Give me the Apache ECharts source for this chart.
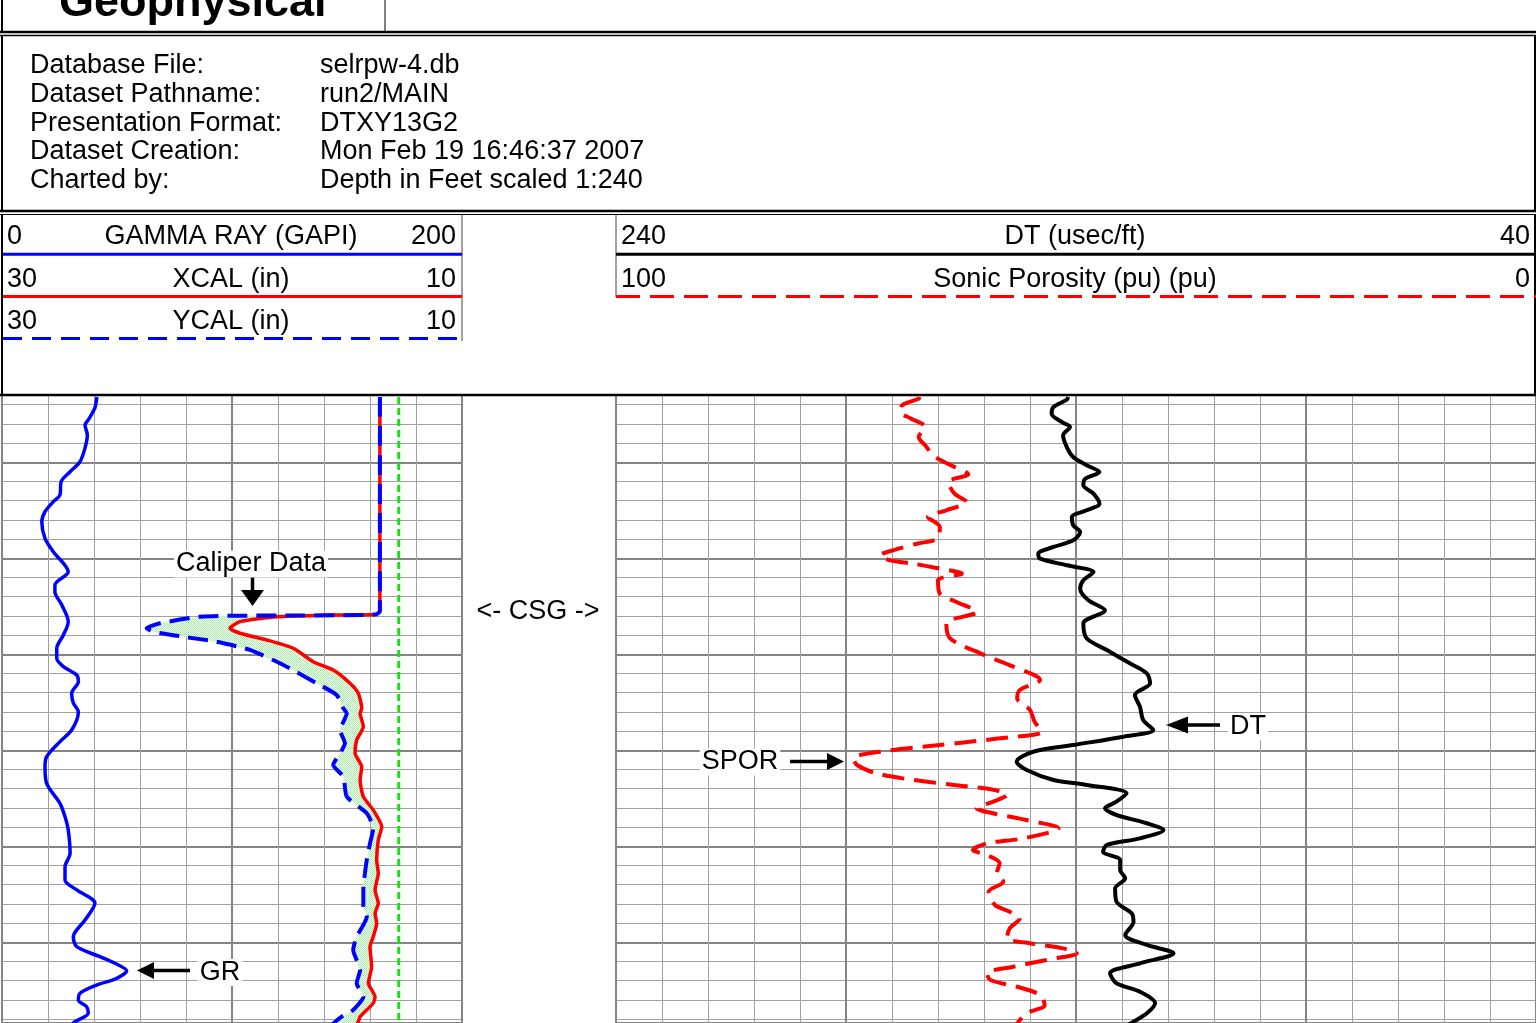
<!DOCTYPE html>
<html>
<head>
<meta charset="utf-8">
<title>Well log</title>
<script src="https://cdn.jsdelivr.net/npm/echarts@6/dist/echarts.min.js"></script>
<style>
html, body { margin: 0; padding: 0; background: #fff; }
#chart { width: 1536px; height: 1023px; }
</style>
</head>
<body>
<div id="chart"></div>
<script>
// gamma ray (GAPI) against depth (ft)
var grDepth = [3.2,3.33,4.34,5.59,6.11,7.16,8.51,9.94,10.98,12.02,13.41,14.10,15.15,16.19,17.92,19.31,21.40,22.78,23.48,24.86,26.60,27.99,29.38,30.42,31.29,32.16,32.85,34.06,35.07,36.01,37.89,39.10,40.67,41.71,43.45,45.52,46.92,48.30,50.73,52.13,53.51,54.55,55.94,57.68,59.42,60.46,61.50,62.19,62.96,63.75,64.45,65.31,66.01,66.71,67.40,68.27,68.6];
var grValue = [41.3,41.2,40.4,37.5,36.1,37.1,36.1,33.9,29.6,25.7,25.2,22.3,18.7,17.3,18.7,22.3,28.8,23.0,23.0,26.0,28.8,26.7,23.8,23.8,26.7,32.5,33.2,30.3,31.0,33.2,30.3,25.2,19.4,18.7,19.4,25.2,27.4,28.8,29.6,27.4,27.4,32.5,40.4,36.1,31.0,32.5,42.6,49.1,54.2,49.9,41.2,33.9,33.2,36.8,37.5,31.7,30.4];

// calipers (in)
var xcalDepth = [3.2,25.49,25.85,25.91,26.08,26.60,27.29,27.81,28.51,29.38,30.77,31.64,33.02,34.06,35.63,36.15,37.54,38.93,40.31,41.71,43.09,44.83,46.22,47.96,49.34,51.43,52.81,54.55,55.94,56.98,58.02,59.42,60.46,62.54,64.27,65.67,66.35,67.75,68.27,68.6];
var xcalValue = [13.57,13.57,13.74,15.74,18.06,19.65,20.09,19.65,18.49,17.33,16.47,15.60,14.87,14.51,14.36,14.43,14.29,14.58,14.65,14.36,14.43,14.29,13.86,13.49,13.64,13.71,13.64,13.78,13.64,13.78,13.71,13.86,14.0,13.93,14.07,13.78,13.86,14.43,14.51,14.61];
var ycalDepth = [3.2,25.49,25.85,25.96,25.98,26.08,26.77,27.29,27.65,28.17,28.69,29.55,31.11,33.02,34.24,35.63,36.15,37.89,39.27,40.31,41.53,42.75,44.83,46.56,48.13,49.69,51.43,52.81,54.21,56.29,57.33,59.42,60.80,62.89,64.27,65.67,67.05,67.75,68.30,68.6];
var ycalValue = [13.57,13.57,13.74,17.04,19.94,21.39,23.13,23.71,23.42,22.12,20.67,19.22,17.77,16.32,15.45,15.16,15.01,15.30,15.09,15.30,15.60,15.16,15.01,14.14,13.86,14.0,14.14,14.22,14.29,14.29,14.14,14.58,14.73,14.43,14.58,14.29,14.73,15.23,15.52,15.65];
var bitSize = 12.75;

// sonic (usec/ft) and sonic porosity (pu)
var dtDepth = [3.2,3.48,4.24,4.94,5.80,6.32,7.19,8.41,9.45,10.31,11.01,11.71,12.40,13.27,14.31,15.0,15.70,16.56,17.26,18.13,18.82,19.52,20.04,20.73,21.43,22.29,23.17,24.38,25.42,26.77,28.33,29.55,30.94,31.98,33.02,34.24,35.46,36.84,37.89,38.58,39.45,40.15,41.19,42.05,43.09,43.61,44.48,45.35,46.04,46.74,47.60,48.30,49.17,49.86,50.56,51.43,52.47,53.33,54.38,55.77,56.98,57.85,59.24,60.28,61.15,62.19,63.23,64.27,65.15,66.35,67.40,68.27,68.6];
var dtValue = [141.7,142.0,144.9,145.3,143.1,141.3,142.8,142.0,140.6,137.7,134.9,138.0,138.4,136.2,134.9,137.7,140.9,140.6,139.1,140.6,144.9,148.2,147.8,142.0,136.2,138.4,139.1,137.3,133.7,138.4,137.7,133.3,128.3,124.6,123.9,127.2,126.1,125.4,123.2,129.7,140.6,149.3,152.9,150.7,144.9,137.7,129.0,131.2,133.7,131.2,124.6,121.0,126.1,133.3,134.1,130.4,130.4,129.3,131.5,131.2,127.9,127.5,129.3,124.6,118.8,126.1,132.6,131.2,126.1,122.8,124.6,127.5,128.7];
var sporDepth = [3.2,3.38,4.06,4.76,5.46,6.32,7.36,8.23,9.45,10.49,11.25,12.05,13.27,14.14,15.0,15.70,16.74,17.96,18.48,19.17,19.69,20.21,20.56,21.08,21.60,22.29,23.69,24.55,25.59,26.77,28.33,29.90,31.29,32.68,33.72,34.58,35.80,37.02,38.06,38.75,39.45,40.15,40.83,41.53,42.40,43.09,43.61,44.11,44.64,45.35,46.04,46.56,47.26,48.13,49.17,49.69,50.39,50.91,51.77,52.81,53.69,54.73,56.11,56.81,57.50,58.54,59.58,60.10,60.63,61.15,61.84,62.54,63.23,63.93,64.63,65.49,66.53,67.40,68.09,68.6];
var sporValue = [67.0,67.1,68.9,69.1,67.9,66.4,67.1,66.4,65.3,63.2,61.7,63.9,63.2,61.9,64.1,66.1,64.8,65.1,67.3,69.9,71.3,70.2,67.7,64.8,62.4,65.0,64.8,63.0,60.8,64.1,63.7,60.4,56.8,53.9,56.1,56.4,55.0,54.5,53.7,58.3,64.8,71.3,74.2,73.8,71.7,67.7,63.3,59.0,57.5,59.0,60.8,59.0,55.4,51.9,55.7,59.7,61.2,59.7,58.3,58.6,57.9,59.5,58.8,57.2,56.1,57.2,57.5,55.0,51.4,49.9,53.2,56.8,59.7,59.3,56.4,53.9,53.4,55.4,56.1,56.5];

// header texts
var infoLabels = ['Database File:', 'Dataset Pathname:', 'Presentation Format:', 'Dataset Creation:', 'Charted by:'];
var infoValues = ['selrpw-4.db', 'run2/MAIN', 'DTXY13G2', 'Mon Feb 19 16:46:37 2007', 'Depth in Feet scaled 1:240'];

var FONT = '"Liberation Sans", Arial, sans-serif';
var PXFT = 9.6;                       // 1:240 -> pixels per foot
var gridTop = 462.3 - 10 * PXFT;      // depth 0 sits under the header box
var depthMax = (1023 - gridTop) / PXFT;

function pairs(vals, depths) {
  var out = [];
  for (var i = 0; i < Math.min(vals.length, depths.length); i++) out.push([vals[i], depths[i]]);
  return out;
}

// stippled green for the caliper fill
var pat = document.createElement('canvas');
pat.width = 2; pat.height = 2;
var pg = pat.getContext('2d');
pg.fillStyle = '#f6fdf6'; pg.fillRect(0, 0, 2, 2);
pg.fillStyle = '#a6eaa6'; pg.fillRect(0, 0, 1, 1); pg.fillRect(1, 1, 1, 1);

var minorLine = { show: true, lineStyle: { color: '#a0a0a0', width: 1 } };
var majorLine = { show: true, lineStyle: { color: '#858585', width: 2 } };

function depthAxis(gi) {
  return {
    type: 'value', gridIndex: gi, inverse: true, min: 0, max: depthMax, interval: 10,
    axisLine: { show: false }, axisTick: { show: false }, axisLabel: { show: false },
    splitLine: majorLine, minorTick: { show: false, splitNumber: 5 }, minorSplitLine: minorLine
  };
}
function gridAxis(gi, min, max, interval, inverse) {
  return {
    type: 'value', gridIndex: gi, min: min, max: max, interval: interval, inverse: inverse,
    axisLine: { show: false }, axisTick: { show: false }, axisLabel: { show: false },
    splitLine: majorLine, minorTick: { show: false, splitNumber: 5 }, minorSplitLine: minorLine
  };
}
function hiddenAxis(gi, min, max) {
  return { type: 'value', gridIndex: gi, min: min, max: max, inverse: true, show: false, splitLine: { show: false } };
}

// graphic helpers
function hline(x1, x2, y, w, color, dash) {
  return { type: 'line', z: 101, shape: { x1: x1, y1: y, x2: x2, y2: y },
    style: { stroke: color || '#000', lineWidth: w, lineDash: dash || null } };
}
function vline(x, y1, y2, w, color) {
  return { type: 'line', z: 101, shape: { x1: x, y1: y1, x2: x, y2: y2 },
    style: { stroke: color || '#000', lineWidth: w } };
}
// y is the visual middle of the capitals, zrender puts it a bit high
function txt(s, x, y, align, bg, font) {
  return { type: 'text', z: 110, x: x, y: y + 2, style: {
    text: s, font: font || ('27px ' + FONT), fill: '#000',
    align: align || 'left', verticalAlign: 'middle',
    textAlign: align || 'left', textVerticalAlign: 'middle',
    backgroundColor: bg ? '#fff' : null, padding: bg ? [0, 2] : 0 } };
}
function head(points) {
  return { type: 'polygon', z: 111, shape: { points: points }, style: { fill: '#000' } };
}

var graphics = [
  { type: 'rect', z: 100, shape: { x: 0, y: 212, width: 1536, height: 184 }, style: { fill: '#fff' } },
  // logo box and info box
  vline(2, 0, 32, 2), vline(385, 0, 32, 1),
  hline(0, 1536, 32, 2.5), hline(0, 1536, 35.5, 1.5),
  vline(2, 35, 211, 2), vline(1535, 35, 211, 2),
  hline(0, 1536, 211, 2.5), hline(0, 1536, 214.5, 1.2),
  // track header box
  vline(2, 214, 396, 2), vline(1535, 214, 396, 2),
  hline(0, 1536, 395, 2.5),
  vline(462, 215, 341, 1, '#444'), vline(616, 215, 297, 1, '#444'),
  hline(3, 462, 254.3, 3, '#0000ff'),
  hline(3, 462, 296.5, 3, '#ff0000'),
  hline(3, 462, 338.5, 3, '#0000ff', [19, 10]),
  hline(616, 1536, 254.3, 3, '#000'),
  hline(616, 1536, 296.5, 3, '#ff0000', [24, 10]),
  txt('Geophysical', 59, 2, 'left', false, 'bold 45px ' + FONT),
  txt('0', 7, 235), txt('GAMMA RAY (GAPI)', 231, 235, 'center'), txt('200', 456, 235, 'right'),
  txt('30', 7, 277.5), txt('XCAL (in)', 231, 277.5, 'center'), txt('10', 456, 277.5, 'right'),
  txt('30', 7, 320), txt('YCAL (in)', 231, 320, 'center'), txt('10', 456, 320, 'right'),
  txt('240', 621, 235), txt('DT (usec/ft)', 1075, 235, 'center'), txt('40', 1530, 235, 'right'),
  txt('100', 621, 277.5), txt('Sonic Porosity (pu) (pu)', 1075, 277.5, 'center'), txt('0', 1530, 277.5, 'right'),
  // annotations
  txt('Caliper Data', 251, 562, 'center', true),
  vline(252.5, 576, 594, 3.5), head([[241, 590], [264, 590], [252.5, 606]]),
  txt('GR', 220, 970.5, 'center', true),
  hline(150, 190, 970.5, 3.5), head([[137, 970.5], [154, 962], [154, 979]]),
  txt('<- CSG ->', 538, 610, 'center', true),
  txt('SPOR', 740, 760, 'center', true),
  hline(790, 830, 761.5, 3.5), head([[844, 761.5], [827, 753], [827, 770]]),
  txt('DT', 1248, 725, 'center', true),
  hline(1185, 1220, 725, 3.5), head([[1166, 725], [1188, 716.5], [1188, 733.5]])
];
var rows = [64, 93, 121.5, 150, 179];
infoLabels.forEach(function (s, i) {
  graphics.push(txt(s, 30, rows[i]));
  graphics.push(txt(infoValues[i], 320, rows[i]));
});

var xcalData = pairs(xcalValue, xcalDepth);
var ycalData = pairs(ycalValue, ycalDepth);

var myChart = echarts.init(document.getElementById('chart'), null, { renderer: 'canvas' });
myChart.setOption({
  animation: false,
  backgroundColor: '#fff',
  grid: [
    { left: 2, width: 460, top: gridTop, bottom: 0 },
    { left: 616, right: 0, top: gridTop, bottom: 0 }
  ],
  xAxis: [
    gridAxis(0, 0, 200, 100, false),   // GR, also draws the left grid
    hiddenAxis(0, 10, 30),             // calipers
    gridAxis(1, 0, 100, 25, true),     // SPOR, draws the right grid
    hiddenAxis(1, 40, 240)             // DT
  ],
  yAxis: [depthAxis(0), depthAxis(1)],
  graphic: { elements: graphics },
  series: [
    {
      // fill between the two calipers
      type: 'custom', xAxisIndex: 1, yAxisIndex: 0, z: 1, silent: true,
      data: [[ycalValue[0], ycalDepth[0]]],
      renderItem: function (params, api) {
        var pts = [];
        xcalData.forEach(function (p) { pts.push(api.coord(p)); });
        ycalData.slice().reverse().forEach(function (p) { pts.push(api.coord(p)); });
        return { type: 'polygon', shape: { points: pts }, style: { fill: { image: pat, repeat: 'repeat' } } };
      }
    },
    {
      name: 'GR', type: 'line', xAxisIndex: 0, yAxisIndex: 0, showSymbol: false, smooth: 0.3,
      data: pairs(grValue, grDepth), lineStyle: { color: '#0000ff', width: 3.5 }, z: 3
    },
    {
      name: 'Bit', type: 'line', xAxisIndex: 1, yAxisIndex: 0, showSymbol: false,
      data: [[bitSize, 3.2], [bitSize, 68.6]], lineStyle: { color: '#16e016', width: 3, type: [7, 4] }, z: 2
    },
    {
      name: 'XCAL', type: 'line', xAxisIndex: 1, yAxisIndex: 0, showSymbol: false, smooth: 0.2,
      data: xcalData, lineStyle: { color: '#ff0000', width: 3.5 }, z: 3
    },
    {
      name: 'YCAL', type: 'line', xAxisIndex: 1, yAxisIndex: 0, showSymbol: false, smooth: 0.2,
      data: ycalData, lineStyle: { color: '#0000ff', width: 4, type: [20, 9] }, z: 4
    },
    {
      name: 'SPOR', type: 'line', xAxisIndex: 2, yAxisIndex: 1, showSymbol: false, smooth: 0.3,
      data: pairs(sporValue, sporDepth), lineStyle: { color: '#ff0000', width: 4, type: [22, 10] }, z: 3
    },
    {
      name: 'DT', type: 'line', xAxisIndex: 3, yAxisIndex: 1, showSymbol: false, smooth: 0.3,
      data: pairs(dtValue, dtDepth), lineStyle: { color: '#000', width: 4 }, z: 3
    }
  ]
});
</script>
</body>
</html>
